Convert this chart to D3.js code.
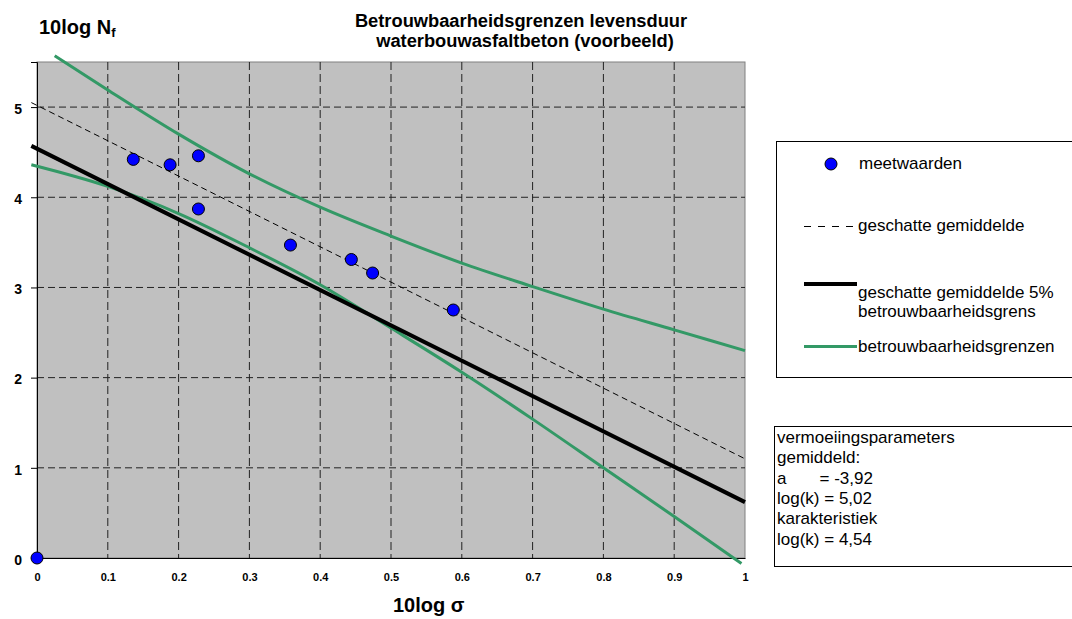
<!DOCTYPE html>
<html lang="en">
<head>
<meta charset="utf-8">
<title>Betrouwbaarheidsgrenzen levensduur</title>
<script src="https://cdn.jsdelivr.net/npm/d3@7/dist/d3.min.js"></script>
<style>
  body { margin: 0; background: #fff; }
  svg text { font-family: "Liberation Sans", Arial, sans-serif; }
</style>
</head>
<body>
<script>
// data
var xTicks = [0, 0.1, 0.2, 0.3, 0.4, 0.5, 0.6, 0.7, 0.8, 0.9, 1];
var xTickLabels = ["0", "0.1", "0.2", "0.3", "0.4", "0.5", "0.6", "0.7", "0.8", "0.9", "1"];
var yTicks = [0, 1, 2, 3, 4, 5];

// meetwaarden
var measX = [0, 0.136, 0.188, 0.228, 0.228, 0.358, 0.444, 0.474, 0.588];
var measY = [0, 4.42, 4.36, 4.46, 3.87, 3.47, 3.31, 3.16, 2.75];

// geschatte gemiddelde (dashed)
var meanX = [-0.008, 1];
var meanY = [5.05, 1.10];

// geschatte gemiddelde 5% betrouwbaarheidsgrens (thick black)
var charX = [-0.008, 1];
var charY = [4.57, 0.62];

// betrouwbaarheidsgrenzen (green)
var upperX = [0.025, 0.1, 0.2, 0.3, 0.4, 0.5, 0.6, 0.7, 0.8, 0.9, 1.0];
var upperY = [5.57, 5.19, 4.70, 4.26, 3.89, 3.57, 3.27, 3.01, 2.76, 2.53, 2.30];
var lowerX = [-0.008, 0.1, 0.2, 0.3, 0.4, 0.5, 0.6, 0.7, 0.8, 0.9, 0.995];
var lowerY = [4.36, 4.12, 3.82, 3.44, 3.03, 2.55, 2.06, 1.54, 1.00, 0.46, -0.06];

var legendItems = ["meetwaarden", "geschatte gemiddelde", "geschatte gemiddelde 5%|betrouwbaarheidsgrens", "betrouwbaarheidsgrenzen"];
var paramLines = ["vermoeiingsparameters", "gemiddeld:", "a       = -3,92", "log(k) = 5,02", "karakteristiek", "log(k) = 4,54"];

// dimensions
var W = 1072, H = 619;
var margin = { top: 62, left: 37 };
var width = 708, height = 496;

var svg = d3.select("body").append("svg")
    .attr("width", W)
    .attr("height", H);

var x = d3.scaleLinear().domain([0, 1]).range([margin.left, margin.left + width]);
var y = d3.scaleLinear().domain([0, 5.5]).range([margin.top + height, margin.top]);

// plot background
svg.append("rect")
    .attr("x", x(0)).attr("y", y(5.5))
    .attr("width", x(1) - x(0)).attr("height", y(0) - y(5.5))
    .style("fill", "#c0c0c0")
    .style("stroke", "#808080")
    .style("stroke-width", 1);

// grid
svg.append("g")
    .selectAll("line.vgrid")
    .data(xTicks.filter(function(d) { return d > 0 && d < 1; }))
    .enter().append("line")
    .attr("x1", function(d) { return x(d); })
    .attr("x2", function(d) { return x(d); })
    .attr("y1", y(5.5)).attr("y2", y(0))
    .style("stroke", "#222")
    .style("stroke-dasharray", "8,4");

svg.append("g")
    .selectAll("line.hgrid")
    .data(yTicks.filter(function(d) { return d > 0; }))
    .enter().append("line")
    .attr("x1", x(0)).attr("x2", x(1))
    .attr("y1", function(d) { return y(d); })
    .attr("y2", function(d) { return y(d); })
    .style("stroke", "#222")
    .style("stroke-dasharray", "7,4");

// y axis
var yAxis = svg.append("g")
    .attr("transform", "translate(" + x(0) + ",0)")
    .call(d3.axisLeft(y).tickValues(yTicks).tickFormat(d3.format("d")).tickSize(6).tickPadding(9));
yAxis.select(".domain").style("stroke", "#000");
yAxis.selectAll(".tick line").style("stroke", "#000");
yAxis.selectAll("text")
    .attr("dy", "0.45em")
    .style("font-size", "14px")
    .style("font-weight", "bold")
    .style("fill", "#000");

// x axis
var xAxis = svg.append("g")
    .attr("transform", "translate(0," + y(0) + ")")
    .call(d3.axisBottom(x).tickValues(xTicks)
        .tickFormat(function(d, i) { return xTickLabels[i]; })
        .tickSize(0).tickPadding(15));
xAxis.select(".domain").style("stroke", "#000");
xAxis.selectAll("text")
    .style("font-size", "11px")
    .style("font-weight", "bold")
    .style("fill", "#000");

// lines
var line = d3.line()
    .x(function(d) { return x(d[0]); })
    .y(function(d) { return y(d[1]); });
var curve = d3.line()
    .x(function(d) { return x(d[0]); })
    .y(function(d) { return y(d[1]); })
    .curve(d3.curveMonotoneX);

svg.append("path")
    .datum(d3.zip(meanX, meanY))
    .attr("d", line)
    .style("fill", "none").style("stroke", "#000")
    .style("stroke-width", 1).style("stroke-dasharray", "6,4");

svg.append("path")
    .datum(d3.zip(upperX, upperY))
    .attr("d", curve)
    .style("fill", "none").style("stroke", "#339966").style("stroke-width", 3);

svg.append("path")
    .datum(d3.zip(lowerX, lowerY))
    .attr("d", curve)
    .style("fill", "none").style("stroke", "#339966").style("stroke-width", 3);

svg.append("path")
    .datum(d3.zip(charX, charY))
    .attr("d", line)
    .style("fill", "none").style("stroke", "#000").style("stroke-width", 4);

// points
svg.selectAll("circle.meas")
    .data(d3.zip(measX, measY))
    .enter().append("circle")
    .attr("cx", function(d) { return x(d[0]); })
    .attr("cy", function(d) { return y(d[1]); })
    .attr("r", 6)
    .style("fill", "#0000ff")
    .style("stroke", "#000")
    .style("stroke-width", 1);

// titles
var t = svg.append("text")
    .attr("x", 521).attr("y", 27)
    .attr("text-anchor", "middle")
    .style("font-size", "18.3px").style("font-weight", "bold");
t.append("tspan").attr("x", 521).text("Betrouwbaarheidsgrenzen levensduur");
t.append("tspan").attr("x", 525).attr("dy", 19.5).text("waterbouwasfaltbeton (voorbeeld)");

var yt = svg.append("text")
    .attr("x", 39).attr("y", 34)
    .style("font-size", "20px").style("font-weight", "bold");
yt.append("tspan").text("10log N");
yt.append("tspan").attr("dy", 3).style("font-size", "13px").text("f");

svg.append("text")
    .attr("x", 393).attr("y", 612)
    .style("font-size", "20px").style("font-weight", "bold")
    .text("10log \u03c3");

// legend box
var lg = svg.append("g");
lg.append("rect")
    .attr("x", 776.5).attr("y", 141.5)
    .attr("width", 320).attr("height", 236)
    .style("fill", "#fff").style("stroke", "#000");

lg.append("circle")
    .attr("cx", 831).attr("cy", 164)
    .attr("r", 6)
    .style("fill", "#0000ff").style("stroke", "#000");
lg.append("line")
    .attr("x1", 804).attr("x2", 857).attr("y1", 226.5).attr("y2", 226.5)
    .style("stroke", "#000").style("stroke-dasharray", "7,7");
lg.append("line")
    .attr("x1", 804).attr("x2", 857).attr("y1", 284).attr("y2", 284)
    .style("stroke", "#000").style("stroke-width", 4);
lg.append("line")
    .attr("x1", 804).attr("x2", 857).attr("y1", 346.5).attr("y2", 346.5)
    .style("stroke", "#339966").style("stroke-width", 3);

var legendY = [169, 231, 298, 352];
var legendXs = [859, 858, 858, 858];
legendItems.forEach(function(s, i) {
    var parts = s.split("|");
    var tx = lg.append("text")
        .attr("x", legendXs[i]).attr("y", legendY[i])
        .style("font-size", "17px");
    parts.forEach(function(p, j) {
        tx.append("tspan").attr("x", legendXs[i]).attr("dy", j ? 18.5 : 0).text(p);
    });
});

// parameter box
var pb = svg.append("g");
pb.append("rect")
    .attr("x", 774.5).attr("y", 426.5)
    .attr("width", 320).attr("height", 140)
    .style("fill", "#fff").style("stroke", "#000");
pb.selectAll("text")
    .data(paramLines)
    .enter().append("text")
    .attr("x", 777)
    .attr("y", function(d, i) { return 443 + i * 20.3; })
    .style("font-size", "17px")
    .style("white-space", "pre")
    .attr("xml:space", "preserve")
    .text(function(d) { return d; });
</script>
</body>
</html>
